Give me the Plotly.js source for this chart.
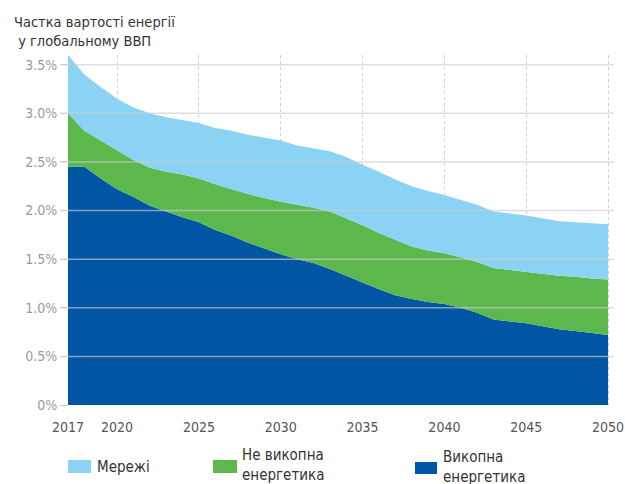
<!DOCTYPE html>
<html><head><meta charset="utf-8">
<script src="https://cdn.plot.ly/plotly-3.0.1.min.js"></script>
<style>body{margin:0;background:#fff}#c{width:625px;height:484px}</style>
</head><body><div id="c"></div>
<script>
const years = [2017,2018,2019,2020,2021,2022,2023,2024,2025,2026,2027,2028,2029,2030,2031,2032,2033,2034,2035,2036,2037,2038,2039,2040,2041,2042,2043,2044,2045,2046,2047,2048,2049,2050];
const fossil = [2.45,2.45,2.33,2.22,2.14,2.05,1.99,1.93,1.88,1.80,1.74,1.67,1.61,1.55,1.50,1.46,1.40,1.33,1.26,1.19,1.13,1.09,1.06,1.04,1.00,0.95,0.88,0.86,0.84,0.81,0.78,0.76,0.74,0.72];
const nonFossil = [0.55,0.37,0.39,0.40,0.38,0.39,0.41,0.44,0.45,0.47,0.48,0.50,0.52,0.54,0.56,0.57,0.59,0.59,0.59,0.58,0.57,0.54,0.53,0.52,0.52,0.52,0.53,0.53,0.53,0.54,0.55,0.56,0.56,0.57];
const grids = [0.60,0.58,0.55,0.53,0.54,0.56,0.56,0.56,0.57,0.58,0.60,0.61,0.62,0.63,0.61,0.61,0.62,0.63,0.62,0.63,0.62,0.62,0.61,0.60,0.59,0.59,0.58,0.58,0.58,0.57,0.56,0.56,0.57,0.57];
const yTicks = [0,0.5,1.0,1.5,2.0,2.5,3.0,3.5];
const yTickText = ['0%','0.5%','1.0%','1.5%','2.0%','2.5%','3.0%','3.5%'];
const xTicks = [2017,2020,2025,2030,2035,2040,2045,2050];
const seriesNames = ['Викопна енергетика','Не викопна енергетика','Мережі'];
const colors = ['#0055A4','#5CB84D','#8BD3F4'];

const FONT = '"DejaVu Sans Condensed", "Liberation Sans", Arial, sans-serif';
const W = 625, H = 484, L = 68, R = 15, T = 55, B = 79;
const px = x => (x - L) / (W - L - R);
const py = y => (H - B - y) / (H - T - B);

const vals = [fossil, nonFossil, grids];
const traces = vals.map((v,i) => ({
  x: years, y: v, type: 'scatter', mode: 'lines', stackgroup: 'one',
  line: {width: 0, color: colors[i]}, fillcolor: colors[i],
  name: seriesNames[i], showlegend: false, hoverinfo: 'skip'
}));

const shapes = yTicks.filter(v => v > 0).map(v => ({
  type: 'line', xref: 'paper', yref: 'y', x0: px(60), x1: px(614), y0: v, y1: v,
  line: {color: 'rgba(205,205,205,0.65)', width: 1.5}, layer: 'above'
}));

const leg = [
  {box: [68, 460, 91, 473], text: 'Мережі', tx: 95, ty: 467, c: colors[2]},
  {box: [213, 460, 237, 473], text: 'Не викопна<br>енергетика', tx: 240, ty: 465, c: colors[1]},
  {box: [415, 462, 437, 474], text: 'Викопна<br>енергетика', tx: 441, ty: 467, c: colors[0]}
];
const annotations = [{
  xref: 'paper', yref: 'paper', x: px(12), y: py(31), xanchor: 'left', yanchor: 'middle',
  align: 'left', showarrow: false, text: 'Частка вартості енергії<br> у глобальному ВВП',
  font: {family: FONT, size: 14.5, color: '#333'}
}];
leg.forEach(l => {
  shapes.push({type: 'rect', xref: 'paper', yref: 'paper', x0: px(l.box[0]), x1: px(l.box[2]),
    y0: py(l.box[3]), y1: py(l.box[1]), fillcolor: l.c, line: {width: 0}});
  annotations.push({xref: 'paper', yref: 'paper', x: px(l.tx), y: py(l.ty), xanchor: 'left',
    yanchor: 'middle', align: 'left', showarrow: false, text: l.text,
    font: {family: FONT, size: 15, color: '#333'}});
});

const layout = {
  width: W, height: H, margin: {l: L, r: R, t: T, b: B},
  paper_bgcolor: '#fff', plot_bgcolor: '#fff',
  xaxis: {range: [2017, 2050.12], tickvals: xTicks, ticktext: xTicks.map(String),
    showgrid: true, gridcolor: '#d0d0d0', griddash: 'dot', gridwidth: 1,
    zeroline: false, showline: false, ticks: '', fixedrange: true, ticklabelstandoff: 12,
    tickfont: {family: FONT, size: 14, color: '#555'}},
  yaxis: {range: [0, 3.6], tickvals: yTicks, ticktext: yTickText, showgrid: false,
    zeroline: false, showline: false, ticks: 'outside', ticklen: 7, tickcolor: '#ccc',
    tickfont: {family: FONT, size: 14, color: '#9a9a9a'}, fixedrange: true},
  shapes: shapes, annotations: annotations, showlegend: false
};
Plotly.newPlot('c', traces, layout, {displayModeBar: false, staticPlot: true});
</script></body></html>
